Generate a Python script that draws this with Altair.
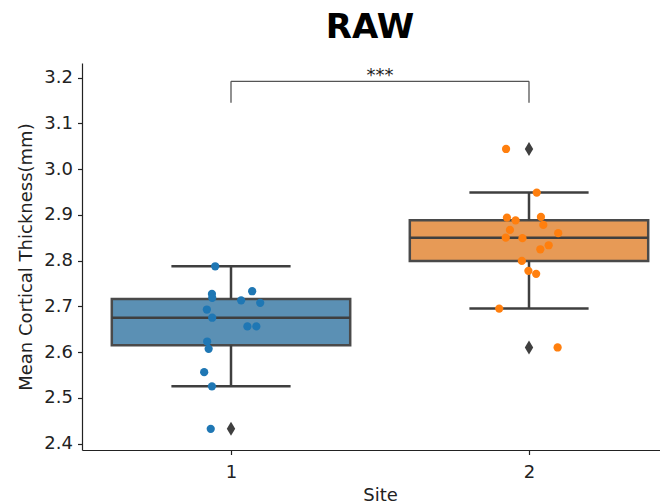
import altair as alt
import numpy as np
import pandas as pd

# ---- data ----
sites = [1, 2]
site1_values = [2.7875, 2.727, 2.7185, 2.733, 2.713, 2.7075, 2.693, 2.675, 2.656, 2.656,
                2.623, 2.607, 2.556, 2.525, 2.432]
site1_jitter = [-0.053, -0.064, -0.063, 0.071, 0.034, 0.098, -0.081, -0.063, 0.055, 0.085,
                -0.080, -0.075, -0.090, -0.064, -0.068]
site2_values = [3.044, 2.9486, 2.894, 2.888, 2.8955, 2.878, 2.867, 2.860, 2.850, 2.849,
                2.8335, 2.8247, 2.7993, 2.7775, 2.771, 2.695, 2.610]
site2_jitter = [-0.077, 0.026, -0.074, -0.045, 0.040, 0.048, -0.064, 0.098, -0.078, -0.022,
                0.066, 0.038, -0.024, -0.002, 0.024, -0.100, 0.096]
y_ticks = [2.4, 2.5, 2.6, 2.7, 2.8, 2.9, 3.0, 3.1, 3.2]
sig_label = "***"
bracket_top = 3.192
bracket_bottom = 3.145

point_colors = ["#1f77b4", "#ff7f0e"]
box_colors = ["#5b90b4", "#e79a56"]
dark = "#3f3f3f"
FONT = "DejaVu Sans"

# ---- tables ----
pts = pd.DataFrame({
    "site": [1] * len(site1_values) + [2] * len(site2_values),
    "value": site1_values + site2_values,
    "jitter": site1_jitter + site2_jitter,
})

rows, outl = [], []
for s, vals in zip(sites, [site1_values, site2_values]):
    a = np.array(vals)
    q1, med, q3 = np.percentile(a, [25, 50, 75])
    iqr = q3 - q1
    lo = a[a >= q1 - 1.5 * iqr].min()
    hi = a[a <= q3 + 1.5 * iqr].max()
    rows.append(dict(site=s, q1=q1, med=med, q3=q3, lo=lo, hi=hi))
    for v in a[(a < lo) | (a > hi)]:
        outl.append(dict(site=s, value=float(v)))
box = pd.DataFrame(rows)
outliers = pd.DataFrame(outl)
bracket = pd.DataFrame({"a": [1], "b": [2], "top": [bracket_top], "bot": [bracket_bottom],
                        "mid": [1.5], "label": [sig_label]})

W = 578
xscale = alt.Scale(domain=[0.5, 0.5 + W / 298], nice=False, zero=False)
yscale = alt.Scale(domain=[2.3858, 3.232], nice=False, zero=False)

xaxis = alt.Axis(title="Site", values=[1, 2], format="d", grid=False,
                 labelFont=FONT, titleFont=FONT, labelFontSize=18, titleFontSize=18,
                 titleFontWeight="normal", labelColor="#222", titleColor="#222",
                 domainColor="#222", tickColor="#222", domainWidth=1.2, tickWidth=1.2,
                 tickSize=4.5, labelPadding=9, labelFlush=False,
                 titleX=298, titleY=50, titleAlign="center", titleBaseline="alphabetic")
yaxis = alt.Axis(title="Mean Cortical Thickness(mm)", values=y_ticks, format=".1f", grid=False,
                 labelFont=FONT, titleFont=FONT, labelFontSize=18, titleFontSize=18,
                 titleFontWeight="normal", labelColor="#222", titleColor="#222",
                 domainColor="#222", tickColor="#222", domainWidth=1.2, tickWidth=1.2,
                 tickSize=4.5, labelPadding=5, labelFlush=False,
                 titleAngle=270, titleX=-50.5, titleY=193.6, titleAlign="center",
                 titleBaseline="alphabetic")

def X(field):
    return alt.X(field, type="quantitative", scale=xscale, axis=xaxis)

def Y(field):
    return alt.Y(field, type="quantitative", scale=yscale, axis=yaxis)

boxbase = alt.Chart(box).transform_calculate(
    left="datum.site - 0.4", right="datum.site + 0.4",
    cl="datum.site - 0.2", cr="datum.site + 0.2")

rect = boxbase.mark_rect(stroke="#4a4a4a", strokeWidth=2.5).encode(
    x=X("left"), x2="right", y=Y("q1"), y2="q3",
    fill=alt.Fill("site:N", scale=alt.Scale(domain=sites, range=box_colors), legend=None))
median = boxbase.mark_rule(color=dark, strokeWidth=2.5).encode(
    x=X("left"), x2="right", y=Y("med"))
whisk_hi = boxbase.mark_rule(color=dark, strokeWidth=2.5).encode(
    x=X("site"), y=Y("q3"), y2="hi")
whisk_lo = boxbase.mark_rule(color=dark, strokeWidth=2.5).encode(
    x=X("site"), y=Y("lo"), y2="q1")
cap_hi = boxbase.mark_rule(color=dark, strokeWidth=2.5).encode(
    x=X("cl"), x2="cr", y=Y("hi"))
cap_lo = boxbase.mark_rule(color=dark, strokeWidth=2.5).encode(
    x=X("cl"), x2="cr", y=Y("lo"))

out_marks = alt.Chart(outliers).mark_point(
    shape="M0,-1L0.6,0L0,1L-0.6,0Z", filled=True, color=dark, opacity=1, size=196
).encode(x=X("site"), y=Y("value"))

points = alt.Chart(pts).transform_calculate(xj="datum.site + datum.jitter").mark_circle(
    size=68, opacity=1).encode(
    x=X("xj"), y=Y("value"),
    color=alt.Color("site:N", scale=alt.Scale(domain=sites, range=point_colors), legend=None))

bbase = alt.Chart(bracket)
br_h = bbase.mark_rule(color="#555", strokeWidth=1.3).encode(x=X("a"), x2="b", y=Y("top"))
br_l = bbase.mark_rule(color="#555", strokeWidth=1.3).encode(x=X("a"), y=Y("bot"), y2="top")
br_r = bbase.mark_rule(color="#555", strokeWidth=1.3).encode(x=X("b"), y=Y("bot"), y2="top")
br_t = bbase.mark_text(font=FONT, fontSize=18, color="#222", baseline="alphabetic",
                       align="center").encode(x=X("mid"), y=Y("top"), text="label:N")

chart = alt.layer(rect, whisk_hi, whisk_lo, cap_hi, cap_lo, median, points, out_marks,
                  br_h, br_l, br_r, br_t).properties(
    width=W, height=387,
    title=alt.TitleParams("RAW", font=FONT, fontSize=34, fontWeight="bold", color="black",
                          anchor="middle", frame="group", dx=-1, offset=-9,
                          baseline="alphabetic"),
    autosize=alt.AutoSizeParams(type="none"),
    padding={"left": 74, "top": 55, "right": 0, "bottom": 54},
).resolve_scale(color="independent").configure(
    background="white", view=alt.ViewConfig(stroke="transparent", strokeWidth=0))

chart.save("out.html", embed_options={"renderer": "svg", "actions": False})
